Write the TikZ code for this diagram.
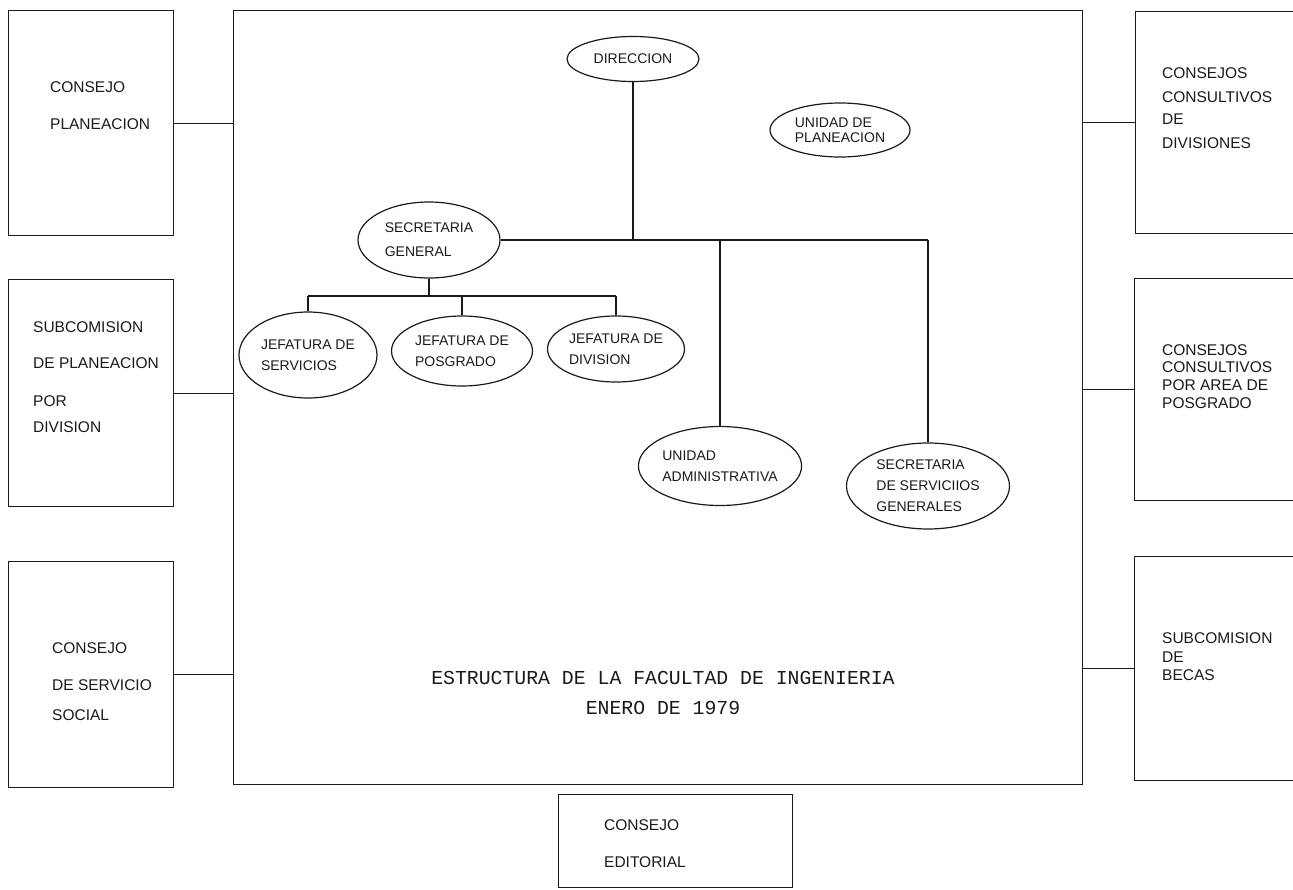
\documentclass[tikz,border=0pt]{standalone}
\usepackage{fontspec}
\setmainfont{Liberation Sans}
\newfontfamily\typefont{Liberation Mono}
\usepackage{xcolor}
\usepackage{tikz}
\usetikzlibrary{shapes.geometric}
\definecolor{ink}{HTML}{1A1A1A}
\tikzset{
  frame/.style={draw=ink, line width=1.4pt, rectangle, anchor=north west, inner sep=0pt},
  council/.style={draw=ink, line width=1.3pt, rectangle, anchor=north west, inner sep=0pt},
  unit/.style={
    draw=ink,
    line width=1.2pt,
    ellipse,
    inner sep=0pt,
    align=left,
    text=ink,
    font=\fontsize{14}{21}\selectfont
  },
  link/.style={draw=ink, line width=1.2pt},
  words/.style={anchor=west, inner sep=0pt, text=ink, font=\fontsize{15.5}{18}\selectfont},
  heading/.style={inner sep=0pt, text=ink, font=\typefont\fontsize{19.8}{24}\selectfont}
}

\begin{document}
\begin{tikzpicture}[x=1pt, y=-1pt]
  \useasboundingbox (0,0) rectangle (1293,889);
  \clip (0,0) rectangle (1293,889);

  % faculty frame
  \node[frame, minimum width=849pt, minimum height=774pt] (fac) at (233,10) {};

  % councils left
  \node[council, minimum width=165pt, minimum height=225pt] (cp) at (8,10) {};
  \node[council, minimum width=165pt, minimum height=227pt] (sp) at (8,279) {};
  \node[council, minimum width=165pt, minimum height=226pt] (cs) at (8,561) {};
  % councils right (running off the sheet)
  \node[council, minimum width=175pt, minimum height=222pt] (cd) at (1135,11) {};
  \node[council, minimum width=175pt, minimum height=222pt] (ca) at (1134,278) {};
  \node[council, minimum width=175pt, minimum height=224pt] (sb) at (1134,556) {};
  % council below
  \node[council, minimum width=234pt, minimum height=93pt] (ce) at (558,794) {};

  \foreach \t/\y [count=\k] in {CONSEJO/87, PLANEACION/124}
    \node[words] (cpt\k) at (50,\y) {\t};
  \foreach \t/\y [count=\k] in {SUBCOMISION/327, DE PLANEACION/363, POR/401, DIVISION/427}
    \node[words] (spt\k) at (33,\y) {\t};
  \foreach \t/\y [count=\k] in {CONSEJO/648, DE SERVICIO/685, SOCIAL/715}
    \node[words] (cst\k) at (52,\y) {\t};
  \foreach \t/\y [count=\k] in {CONSEJOS/73, CONSULTIVOS/97, DE/119, DIVISIONES/143}
    \node[words] (cdt\k) at (1162,\y) {\t};
  \foreach \t/\y [count=\k] in {CONSEJOS/350, CONSULTIVOS/367, POR AREA DE/385, POSGRADO/403}
    \node[words] (cat\k) at (1162,\y) {\t};
  \foreach \t/\y [count=\k] in {SUBCOMISION/638, DE/657, BECAS/675}
    \node[words] (sbt\k) at (1162,\y) {\t};
  \foreach \t/\y [count=\k] in {CONSEJO/825, EDITORIAL/862}
    \node[words] (cet\k) at (604,\y) {\t};

  \foreach \b in {cp,sp,cs}
    \draw[link] (\b.east) -- (\b.east -| fac.west);
  \foreach \b in {cd,ca,sb}
    \draw[link] (\b.west) -- (\b.west -| fac.east);

  % units
  \node[unit, minimum width=132pt, minimum height=45pt] (dir) at (633,59) {DIRECCION};
  \node[unit, minimum width=140pt, minimum height=54pt, font=\fontsize{14}{15}\selectfont] (up) at (840,130) {UNIDAD DE\\PLANEACION};
  \node[unit, minimum width=142pt, minimum height=76pt, font=\fontsize{14}{24}\selectfont] (sg) at (429,240) {SECRETARIA\\GENERAL};
  \node[unit, minimum width=138pt, minimum height=86pt] (js) at (308,355) {JEFATURA DE\\SERVICIOS};
  \node[unit, minimum width=141pt, minimum height=70pt] (jp) at (462,351) {JEFATURA DE\\POSGRADO};
  \node[unit, minimum width=137pt, minimum height=66pt] (jd) at (616,349) {JEFATURA DE\\DIVISION};
  \node[unit, minimum width=154pt, minimum height=79pt] (ua) at (720,466) {UNIDAD\\ADMINISTRATIVA};
  \node[unit, minimum width=163pt, minimum height=86pt] (ssg) at (928,486) {SECRETARIA\\DE SERVICIIOS\\GENERALES};

  \coordinate (jbus) at (429,296);
  \draw[link] (sg.east) -- (ssg.north |- sg.east);
  \draw[link] (dir.south) -- (dir.south |- sg.east);
  \foreach \u in {ua,ssg}
    \draw[link] (\u.north) -- (\u.north |- sg.east);
  \draw[link] (sg.south) -- (jbus);
  \draw[link] (js.north |- jbus) -- (jd.north |- jbus);
  \foreach \u in {js,jp,jd}
    \draw[link] (\u.north) -- (\u.north |- jbus);

  \node[heading] (ttl) at (663,678) {ESTRUCTURA DE LA FACULTAD DE INGENIERIA};
  \node[heading] (dat) at (663,708) {ENERO DE 1979};
\end{tikzpicture}
\end{document}
